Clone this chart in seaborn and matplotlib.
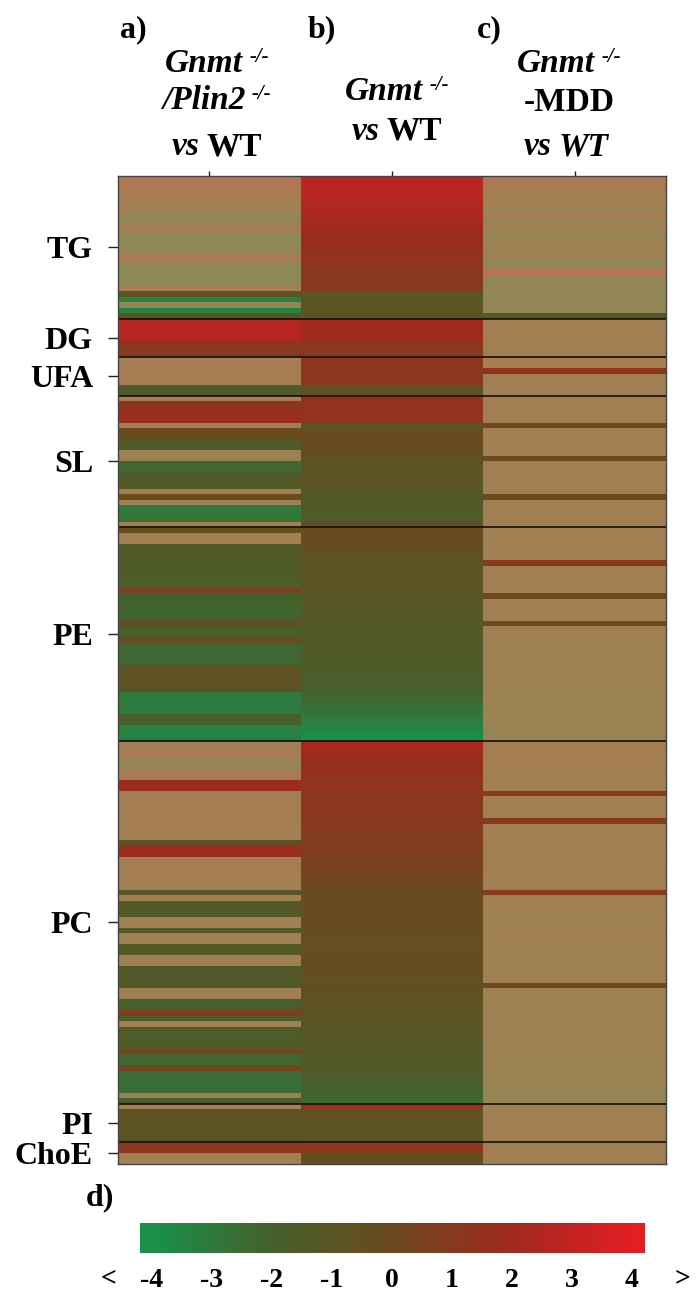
import numpy as np
import pandas as pd
import matplotlib
matplotlib.use("Agg")
import matplotlib.pyplot as plt
import seaborn as sns
from matplotlib.colors import LinearSegmentedColormap

# ---------------- data ----------------
groups = ["TG", "DG", "UFA", "SL", "PE", "PC", "PI", "ChoE"]
group_sizes = [26, 7, 7, 24, 39, 66, 7, 4]
col_names = ["a", "b", "c"]
cbar_ticks = [-4, -3, -2, -1, 0, 1, 2, 3, 4]
cbar_labels = ["-4", "-3", "-2", "-1", "0", "1", "2", "3", "4"]

# log2 fold change per lipid species (rows grouped as in group_sizes)
val_a = [
    # TG
    1.5, 1.5, 1.2, 1.0, 0.5, 0.0, 0.2, -1.5, -1.2, 1.0, -1.5, -1.8, -1.5, -1.2, 1.0,
    0.8, -2.0, -2.0, -1.8, -2.0, 1.0, -0.8, -3.3, -1.0, -3.5, -0.8,
    # DG
    2.6, 2.7, 2.6, 2.5, 1.3, 1.1, 1.1,
    # UFA
    0.8, 0.8, 0.6, 0.6, 0.5, -1.7, -1.2,
    # SL
    0.3, 1.3, 1.4, 1.8, 1.8, 0.3, 0.0, -0.2, -1.3, -1.6, -0.3, -0.3, -2.3, -2.3, -1.5,
    -1.3, -1.3, 0.0, 0.0, 0.0, -3.0, -3.0, -2.8, 0.3,
    # PE
    -0.3, 0.3, 0.3, -1.3, -1.4, -1.4, -1.5, -1.5, -1.6, -1.6, -1.7, 0.5, -2.0, -2.1, -2.1,
    -2.2, -2.0, 0.2, -2.0, -1.9, -0.3, -2.2, -2.3, -2.3, -2.2, -0.8, -0.6, -0.8, -0.7, -1.0,
    -3.0, -3.2, -3.0, -3.1, -1.8, -2.0, -3.3, -3.5, -3.4,
    # PC
    0.3, 0.5, 1.2, -1.0, -1.2, 1.0, 1.0, 1.8, 1.8, 0.5, 0.3, 0.5, 0.2, 0.4, 0.3,
    0.5, 0.3, 0.2, -0.8, 1.8, 1.8, 0.3, 0.5, 0.2, 0.4, 0.3, 0.2, -1.1, 0.0, -1.3,
    -1.3, -1.3, 0.0, 0.0, -1.2, -0.3, -0.3, -1.3, -1.3, -0.2, -0.2, -1.4, -1.5, -1.5, -1.4,
    0.0, 0.0, -2.0, -1.8, 0.7, -1.5, 0.0, -1.5, -1.6, -1.6, -1.5, 0.4, -2.2, -2.3, 0.3,
    -2.5, -2.6, -2.6, -2.5, -0.5, -1.8,
    # PI
    0.3, -0.7, -0.7, -0.8, -0.8, -0.9, -0.9,
    # ChoE
    1.2, 1.2, 0.3, 0.3,
]
# S = significant, n = not significant (groups of five, spaces ignored)
sig_a = ("nnnnn nnnnn nnnnn nnnnn nSSnS S" "SSSSS SS" "nnnnn SS"
         "nSSSS nSSSS nnSSS SSnSn SSSn"
         "SnnSS SSSSS SSSSS SSSSS SSSSS SSSSS SSSSS SSSS"
         "nnnnn nnSSn nnnnn nnnSS Snnnn nnSnS SSnnS nnSSn nSSSS nnSSS SnSSS SSSSS SSSSn S"
         "nSSSS SS" "SSnn")

val_b = [
    # TG
    2.8, 2.75, 2.7, 2.6, 2.5, 2.4, 2.3, 2.2, 2.1, 2.0, 1.9, 1.8, 1.7, 1.6, 1.5,
    1.4, 1.3, 1.2, 1.15, 1.1, 1.05, -1.0, -1.0, -1.0, -1.0, -0.9,
    # DG
    2.0, 2.0, 2.0, 1.9, 1.2, 1.1, 1.1,
    # UFA
    1.3, 1.3, 1.2, 1.2, 1.2, -0.7, -0.7,
    # SL
    1.8, 1.3, 1.5, 1.5, 1.5, -1.5, -0.1, -0.1, -0.2, -0.3, -0.4, -0.5, -0.7, -0.8, -0.9,
    -1.0, -1.1, -1.2, -1.3, -1.4, -1.5, -1.6, -1.7, -0.4,
    # PE
    -0.1, -0.2, -0.3, -0.4, -0.5, -0.6, -0.7, -0.75, -0.8, -0.85, -0.9, -0.95, -1.0, -1.05,
    -1.1, -1.15, -1.2, -1.25, -1.3, -1.3, -1.35, -1.4, -1.4, -1.45, -1.5, -1.55, -1.6,
    -1.7, -1.8, -1.9, -2.1, -2.3, -2.6, -2.8, -3.0, -3.2, -3.4, -3.7, -3.9,
    # PC
    2.3, 2.1, 1.9, 1.8, 1.7, 1.6, 1.5, 1.45, 1.4, 1.3, 1.25, 1.2, 1.15, 1.1, 1.05,
    1.0, 0.95, 0.9, 0.85, 0.8, 0.7, 0.6, 0.5, 0.4, 0.3, 0.2, 0.1, 0.0,
    -0.05, -0.1, -0.1, -0.15, -0.15, -0.2, -0.2, -0.2, -0.25, -0.25,
    -0.3, -0.3, -0.35, -0.4, -0.4, -0.45, -0.5, -0.5, -0.55, -0.6,
    -0.65, -0.7, -0.8, -0.9, -1.0, -1.05, -1.1, -1.2, -1.3, -1.35,
    -1.45, -1.55, -1.65, -1.8, -1.9, -2.05, -2.2, -2.4,
    # PI
    1.5, -0.6, -0.7, -0.7, -0.8, -0.9, -1.0,
    # ChoE
    1.2, 1.2, -0.5, -0.5,
]
sig_b = ("SSSSS SSSSS SSSSS SSSSS SSSSS S" "SSSSS SS" "SSSSS SS"
         "SSSSS SSSSS SSSSS SSSSS SSSS"
         "SSSSS SSSSS SSSSS SSSSS SSSSS SSSSS SSSSS SSSS"
         "SSSSS SSSSS SSSSS SSSSS SSSSS SSSSS SSSSS SSSSS SSSSS SSSSS SSSSS SSSSS SSSSS S"
         "SSSSS SS" "SSSS")

val_c = [
    # TG
    1.5, 1.2, 1.0, 0.5, 0.3, 0.0, -1.0, 0.8, -1.2, 0.3, -1.2, -1.0, 0.2, -0.5, 0.5,
    -1.3, -1.0, 3.0, -1.0, -1.5, -1.2, -1.5, -1.3, -1.0, -1.5, -1.0,
    # DG
    0.2, 0.1, 0.1, 0.0, 0.1, 0.0, 0.1,
    # UFA
    0.3, 0.3, 1.4, 0.2, 0.1, 0.0, 0.1,
    # SL
    0.0, 0.1, 0.0, 0.1, 0.0, 0.1, 0.0, 0.1, 0.0, 0.0, 0.1, 0.1, 0.0, 0.0, 0.1,
    0.0, 0.0, 0.1, 0.1, 0.0, 0.0, 0.0, 0.1, 0.0,
    # PE
    0.0, 0.1, 0.0, 0.2, 0.1, 0.0, 1.0, 0.0, 0.1, 0.0, 0.0, 0.1, 0.1, 0.0, 0.0,
    0.1, 0.0, 0.1, 0.0, 0.0, -0.2, -0.2, -0.3, -0.2, -0.3, -0.3, -0.4, -0.3, -0.4, -0.4,
    -0.5, -0.4, -0.5, -0.5, -0.6, -0.5, -0.6, -0.6, -0.7,
    # PC
    0.5, 0.5, 0.4, 0.3, 0.4, 0.3, 0.2, 0.3, 0.2, 1.0, 0.3, 0.2, 0.3, 0.2, 1.0,
    0.2, 0.3, 0.2, 0.1, 0.2, 0.1, 0.2, 0.1, 0.0, 0.1, 0.0, 0.1, 1.0, 0.0, 0.1,
    0.0, -0.1, 0.0, -0.1, 0.0, 0.0, -0.1, 0.0, -0.1, -0.1, 0.0, -0.1, -0.2, -0.1, 0.1,
    -0.2, -0.1, -0.2, -0.2, -0.3, -0.2, -0.3, -0.3, -0.2, -0.3, -0.4, -0.3, -0.4, -0.4, -0.5,
    -0.5, -0.6, -0.7, -0.8, -1.0, -0.8,
    # PI
    0.0, 0.0, 0.1, 0.0, 0.0, 0.1, 0.0,
    # ChoE
    0.1, 0.0, 0.1, 0.0,
]
sig_c = ("nnnnn nnnnn nnnnn nnnnn nnnnn S" "nnnnn nn" "nnSnn nn"
         "nnnnn Snnnn nSnnn nnnSn nnnn"
         "nnnnn nSnnn nnSnn nnSnn nnnnn nnnnn nnnnn nnnn"
         "nnnnn nnnnS nnnnS nnnnn nnnnn nnSnn nnnnn nnnnn nnnnS nnnnn nnnnn nnnnn nnnnn n"
         "nnnnn nn" "nnnn")

# ---------------- build tables ----------------
def flags(s):
    return np.array([ch == "S" for ch in s.replace(" ", "")])

n_rows = sum(group_sizes)
for v, s in [(val_a, sig_a), (val_b, sig_b), (val_c, sig_c)]:
    assert len(v) == n_rows, len(v)
    assert len(flags(s)) == n_rows, len(flags(s))

vals = pd.DataFrame({"a": val_a, "b": val_b, "c": val_c})
sig = np.column_stack([flags(sig_a), flags(sig_b), flags(sig_c)])

# ---------------- style ----------------
sns.set_style("white")
plt.rcParams["font.family"] = ["Liberation Serif", "DejaVu Serif"]
plt.rcParams["font.weight"] = "bold"
plt.rcParams["text.color"] = "black"
plt.rcParams["xtick.color"] = "black"
plt.rcParams["ytick.color"] = "black"

main_cmap = LinearSegmentedColormap.from_list(
    "gbr", [(0.0, "#19914b"), (0.25, "#46602c"), (0.5, "#6b4a1e"),
            (0.75, "#a02a1e"), (1.0, "#e31e24")])
pale_cmap = LinearSegmentedColormap.from_list(
    "pale", [(0.0, "#6e965a"), (0.25, "#8a8a56"), (0.5, "#a08052"),
             (0.75, "#b27654"), (1.0, "#c36c52")])

W, H = 697, 1298
fig = plt.figure(figsize=(W / 100, H / 100), dpi=100)
fig.patch.set_facecolor("white")

def fx(x):
    return x / W

def fy(y):
    return 1 - y / H

ax = fig.add_axes([fx(118), fy(1164), (666 - 118) / W, (1164 - 176) / H])
sns.heatmap(vals, ax=ax, cmap=main_cmap, vmin=-4, vmax=4, mask=~sig,
            cbar=False, xticklabels=False, yticklabels=False)
sns.heatmap(vals, ax=ax, cmap=pale_cmap, vmin=-4, vmax=4, mask=sig,
            cbar=False, xticklabels=False, yticklabels=False)

bounds = np.cumsum(group_sizes)
for b in bounds[:-1]:
    ax.axhline(b, color="#111111", lw=1.2)
centers = bounds - np.array(group_sizes) / 2
ax.set_yticks(centers)
ax.set_yticklabels(groups, fontsize=23, fontweight="bold", color="black")
ax.set_xticks([0.5, 1.5, 2.5])
ax.xaxis.tick_top()
ax.set_xticklabels([])
ax.tick_params(axis="y", left=True, length=7, width=1, pad=11, color="#222222")
ax.tick_params(axis="x", top=True, bottom=False, length=3.5, width=1, color="#222222")
ax.set_xlabel("")
ax.set_ylabel("")
for sp in ax.spines.values():
    sp.set_visible(True)
    sp.set_color("#444444")
    sp.set_linewidth(1)

# ---------------- column headers ----------------
renderer = fig.canvas.get_renderer()
FS = 24

def rich_line(xc, yb, parts):
    objs = []
    total = 0
    for txt, style, scale, rise, gap in parts:
        t = fig.text(0, 0, txt, fontsize=FS * scale, fontstyle=style, color="black",
                     fontweight="bold", va="baseline", ha="left")
        w = t.get_window_extent(renderer).width
        objs.append((t, rise, gap, w))
        total += gap + w
    x = xc - total / 2
    for t, rise, gap, w in objs:
        x += gap
        t.set_position((fx(x), fy(yb - rise)))
        x += w

sup = ("-/-", "italic", 0.62, 10, 6)
rich_line(217, 72, [("Gnmt", "italic", 1, 0, 0), sup])
rich_line(217, 109, [("/Plin2", "italic", 1, 0, 0), sup])
rich_line(217, 155, [("vs", "italic", 1, 0, 0), ("WT", "normal", 1, 0, 7)])
rich_line(397, 100, [("Gnmt", "italic", 1, 0, 0), sup])
rich_line(397, 140, [("vs", "italic", 1, 0, 0), ("WT", "normal", 1, 0, 7)])
rich_line(569, 72, [("Gnmt", "italic", 1, 0, 0), sup])
rich_line(569, 111, [("-MDD", "normal", 1, 0, 0)])
rich_line(566, 155, [("vs", "italic", 1, 0, 0), ("WT", "italic", 1, 0, 7)])

for lab, x in [("a)", 133), ("b)", 322), ("c)", 489), ]:
    fig.text(fx(x), fy(30), lab, fontsize=23, fontweight="bold", color="black",
             ha="center", va="center")
fig.text(fx(100), fy(1198), "d)", fontsize=23, fontweight="bold", color="black",
         ha="center", va="center")

# ---------------- colour bar ----------------
cax = fig.add_axes([fx(140), fy(1253), (644 - 140) / W, 30 / H])
grad = np.linspace(-4.2, 4.2, 500)[None, :]
cax.imshow(grad, extent=[-4.2, 4.2, 0, 1], aspect="auto", cmap=main_cmap, vmin=-4, vmax=4)
cax.set_xlim(-4.2, 4.2)
cax.set_yticks([])
cax.set_xticks(cbar_ticks)
cax.set_xticklabels(cbar_labels, fontsize=20, fontweight="bold", color="black")
cax.tick_params(axis="x", length=0, pad=11)
for sp in cax.spines.values():
    sp.set_visible(False)
fig.text(fx(109), fy(1279), "<", fontsize=20, fontweight="bold", color="black",
         ha="center", va="center")
fig.text(fx(683), fy(1279), ">", fontsize=20, fontweight="bold", color="black",
         ha="center", va="center")

fig.savefig("out.png", dpi=100, facecolor="white")
